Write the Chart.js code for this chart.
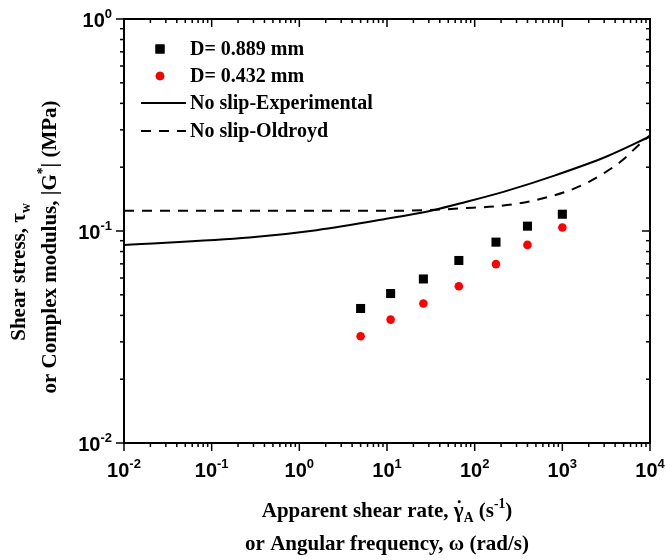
<!DOCTYPE html>
<html lang="en">
<head>
<meta charset="UTF-8">
<title>Shear stress vs apparent shear rate</title>
<script src="https://cdn.jsdelivr.net/npm/chart.js"></script>
<style>
  html, body { margin: 0; padding: 0; background: #fff; }
  #wrap { width: 666px; height: 560px; }
</style>
</head>
<body>
<div id="wrap"><canvas id="myChart"></canvas></div>
<script>
const shearRate = [5, 11, 26, 66, 175, 400, 1000];
const stressD0889 = [0.0431, 0.0507, 0.0594, 0.0726, 0.0886, 0.1054, 0.120];
const stressD0432 = [0.0319, 0.0382, 0.0455, 0.0549, 0.0698, 0.0860, 0.1039];

// no-slip curves
const expRate = [0.01, 0.27, 1.57, 9, 33.6, 80.7, 227, 845, 3148, 10000];
const expStress = [0.086, 0.0932, 0.1009, 0.1134, 0.1254, 0.1373, 0.1542, 0.1835, 0.2239, 0.279];
const oldRate = [0.01, 1, 10, 30, 79, 145, 270, 458, 703, 1190, 2013, 3148, 4880, 7240, 10000];
const oldStress = [0.1245, 0.1245, 0.1246, 0.1255, 0.1282, 0.130, 0.1335, 0.1388, 0.145, 0.155, 0.1706, 0.190, 0.216, 0.252, 0.283];

// axis decades (tick labels are 10^n)
const xDecades = [-2, -1, 0, 1, 2, 3, 4];
const yDecades = [-2, -1, 0];

const legendLabels = ['D= 0.889 mm', 'D= 0.432 mm', 'No slip-Experimental', 'No slip-Oldroyd'];

const serif = '"Liberation Serif", "Times New Roman", serif';
const sans = '"Liberation Sans", Arial, sans-serif';

function pts(xs, ys) {
    return xs.map((v, i) => ({ x: v, y: ys[i] }));
}

// draw text made of parts: [text, kind] with kind '', 'sub', 'sup', 'dot'
function richWidth(ctx, parts, size, family) {
    let w = 0;
    parts.forEach(([t, k]) => {
        const s = (k === 'sub' || k === 'sup') ? size * 0.65 : size;
        ctx.font = 'bold ' + s + 'px ' + family;
        w += ctx.measureText(t).width;
    });
    return w;
}

function drawRich(ctx, parts, cx, cy, size, family) {
    let x = cx - richWidth(ctx, parts, size, family) / 2;
    ctx.textBaseline = 'alphabetic';
    ctx.textAlign = 'left';
    const base = cy + size * 0.33;
    parts.forEach(([t, k]) => {
        let s = size, y = base;
        if (k === 'sub') { s = size * 0.65; y = base + size * 0.25; }
        if (k === 'sup') { s = size * 0.65; y = base - size * 0.42; }
        ctx.font = 'bold ' + s + 'px ' + family;
        ctx.fillText(t, x, y);
        const w = ctx.measureText(t).width;
        if (k === 'dot') {
            ctx.beginPath();
            ctx.arc(x + w * 0.55, base - size * 0.72, size * 0.07, 0, Math.PI * 2);
            ctx.fill();
        }
        x += w;
    });
}

const frame = {
    id: 'frame',
    afterDraw(chart) {
        const { ctx, chartArea: a, scales: { x, y } } = chart;
        ctx.save();
        ctx.strokeStyle = '#000';
        ctx.fillStyle = '#000';
        ctx.lineWidth = 2;
        ctx.strokeRect(a.left, a.top, a.right - a.left, a.bottom - a.top);

        const seg = (x1, y1, x2, y2) => {
            ctx.beginPath(); ctx.moveTo(x1, y1); ctx.lineTo(x2, y2); ctx.stroke();
        };
        ctx.lineWidth = 1.5;
        xDecades.forEach(e => {
            for (let m = 1; m <= 9; m++) {
                if (e === xDecades[xDecades.length - 1] && m > 1) break;
                const px = x.getPixelForValue(m * Math.pow(10, e));
                const len = m === 1 ? 8 : 4;
                seg(px, a.bottom, px, a.bottom + len);
                seg(px, a.top, px, a.top + len);
            }
        });
        yDecades.forEach(e => {
            for (let m = 1; m <= 9; m++) {
                if (e === yDecades[yDecades.length - 1] && m > 1) break;
                const py = y.getPixelForValue(m * Math.pow(10, e));
                const len = m === 1 ? 8 : 4;
                seg(a.left - len, py, a.left, py);
                seg(a.right - len, py, a.right, py);
            }
        });

        // tick labels 10^n
        xDecades.forEach(e => {
            const px = x.getPixelForValue(Math.pow(10, e));
            drawRich(ctx, [['10', ''], [String(e), 'sup']], px, a.bottom + 27, 20, sans);
        });
        yDecades.forEach(e => {
            const py = y.getPixelForValue(Math.pow(10, e));
            const parts = [['10', ''], [String(e), 'sup']];
            const w = richWidth(ctx, parts, 20, sans);
            drawRich(ctx, parts, a.left - 12 - w / 2, py + 1, 20, sans);
        });

        // axis titles
        const xc = (a.left + a.right) / 2;
        drawRich(ctx, [['Apparent shear rate, ', ''], ['γ', 'dot'], ['A', 'sub'], [' (s', ''], ['-1', 'sup'], [')', '']], xc, 510, 21, serif);
        drawRich(ctx, [['or Angular frequency, ω (rad/s)', '']], xc, 543, 21, serif);

        ctx.save();
        ctx.translate(18, 272);
        ctx.rotate(-Math.PI / 2);
        drawRich(ctx, [['Shear stress, τ', ''], ['w', 'sub']], 0, 0, 21, serif);
        ctx.restore();
        ctx.save();
        ctx.translate(49, 247);
        ctx.rotate(-Math.PI / 2);
        drawRich(ctx, [['or Complex modulus, |G', ''], ['*', 'sup'], ['| (MPa)', '']], 0, 0, 21, serif);
        ctx.restore();

        // legend in the top-left corner of the plot
        const rows = [49, 76, 103, 131];
        const ds = chart.data.datasets;
        rows.forEach((ry, i) => {
            const d = ds[i];
            ctx.fillStyle = '#000';
            ctx.font = 'bold 20px ' + serif;
            ctx.textAlign = 'left';
            ctx.textBaseline = 'middle';
            ctx.fillText(legendLabels[i], 190, ry + 1);
            if (d.showLine) {
                ctx.strokeStyle = d.borderColor;
                ctx.lineWidth = d.borderWidth;
                ctx.setLineDash(d.borderDash || []);
                seg(141, ry, 186, ry);
                ctx.setLineDash([]);
            } else {
                Chart.helpers.drawPoint(ctx, {
                    pointStyle: d.pointStyle, radius: d.pointRadius,
                    borderWidth: 0, rotation: 0
                }, 160, ry);
                ctx.fillStyle = d.backgroundColor;
                ctx.fill();
            }
        });
        ctx.restore();
    }
};

const config = {
    type: 'scatter',
    data: {
        datasets: [{
            label: legendLabels[0],
            data: pts(shearRate, stressD0889),
            pointStyle: 'rect',
            pointRadius: 6.4,
            backgroundColor: '#000',
            borderColor: '#000',
            borderWidth: 0
        }, {
            label: legendLabels[1],
            data: pts(shearRate, stressD0432),
            pointStyle: 'circle',
            pointRadius: 4.3,
            backgroundColor: '#ff0000',
            borderColor: '#ff0000',
            borderWidth: 0
        }, {
            label: legendLabels[2],
            data: pts(expRate, expStress),
            showLine: true,
            pointRadius: 0,
            borderColor: '#000',
            borderWidth: 2,
            cubicInterpolationMode: 'monotone'
        }, {
            label: legendLabels[3],
            data: pts(oldRate, oldStress),
            showLine: true,
            pointRadius: 0,
            borderColor: '#000',
            borderWidth: 2,
            borderDash: [10, 8],
            cubicInterpolationMode: 'monotone'
        }]
    },
    options: {
        responsive: true,
        maintainAspectRatio: false,
        animation: false,
        layout: { padding: { top: 19, right: 16, left: 0, bottom: 0 } },
        plugins: { legend: { display: false }, tooltip: { enabled: false } },
        scales: {
            x: {
                type: 'logarithmic',
                min: 0.01,
                max: 10000,
                grid: { display: false, drawTicks: false },
                border: { display: false },
                ticks: { display: false },
                afterFit: s => { s.height = 117; }
            },
            y: {
                type: 'logarithmic',
                min: 0.01,
                max: 1,
                grid: { display: false, drawTicks: false },
                border: { display: false },
                ticks: { display: false },
                afterFit: s => { s.width = 124; }
            }
        }
    },
    plugins: [frame]
};

const ctx = document.getElementById('myChart').getContext('2d');
new Chart(ctx, config);
</script>
</body>
</html>
